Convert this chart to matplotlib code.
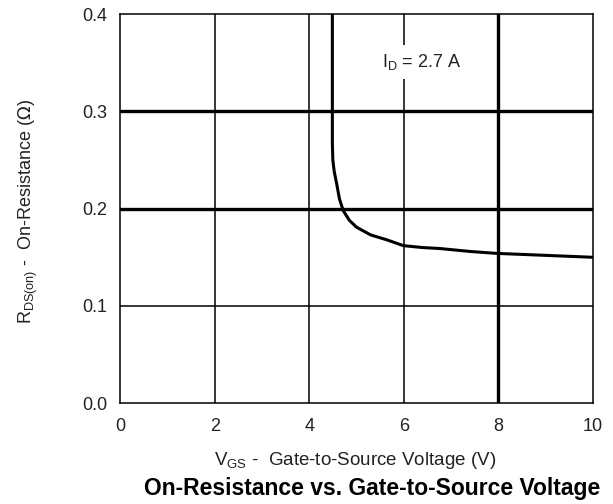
import matplotlib.pyplot as plt

plt.rcParams['font.family'] = ['Liberation Sans', 'DejaVu Sans']

# curve
vgs = [4.49, 4.49, 4.50, 4.53, 4.58, 4.64, 4.72, 4.85, 5.00, 5.30, 5.64, 5.99, 6.40, 6.77, 7.40, 7.97, 9.00, 10.0]
rds = [0.400, 0.267, 0.250, 0.238, 0.226, 0.210, 0.198, 0.188, 0.181, 0.173, 0.168, 0.162, 0.160, 0.159, 0.156, 0.154, 0.152, 0.150]

xticks = [0, 2, 4, 6, 8, 10]
yticks = [0.0, 0.1, 0.2, 0.3, 0.4]
thick_x = [8]
thick_y = [0.2, 0.3]

fig = plt.figure(figsize=(6.13, 5.04), dpi=100)
ax = fig.add_axes([0.196, 0.200, 0.771, 0.772])

ax.set_xlim(0, 10)
ax.set_ylim(0, 0.4)
ax.set_xticks(xticks)
ax.set_yticks(yticks)
ax.set_yticklabels(['%.1f' % v for v in yticks])
ax.tick_params(length=0, labelsize=13, colors='#222222')
ax.tick_params(axis='x', pad=11)
ax.tick_params(axis='y', pad=9)

for x in xticks[1:-1]:
    ax.axvline(x, color='black', lw=2.4 if x in thick_x else 1.1, zorder=1)
for y in yticks[1:-1]:
    ax.axhline(y, color='black', lw=2.4 if y in thick_y else 1.1, zorder=1)
for s in ax.spines.values():
    s.set_linewidth(1.1)

ax.plot(vgs, rds, color='black', lw=2.2, zorder=3)

ax.text(6.38, 0.351, r'I$_\mathregular{D}$ = 2.7 A', fontsize=13, ha='center', va='center',
        color='#222222', bbox=dict(facecolor='white', edgecolor='none', pad=5), zorder=4)

ax.set_xlabel(r'V$_\mathregular{GS}$ -  Gate-to-Source Voltage (V)', fontsize=13.5,
              color='#222222', va='center')
ax.xaxis.set_label_coords(0.497, -0.147)
ax.set_ylabel(r'R$_\mathregular{DS(on)}$ -  On-Resistance ($\Omega$)', fontsize=13,
              color='#222222', va='center')
ax.yaxis.set_label_coords(-0.195, 0.494)
fig.text(0.607, 0.030, 'On-Resistance vs. Gate-to-Source Voltage', fontsize=16.5,
         fontweight='bold', ha='center', va='center')

fig.savefig('out.png', dpi=100)
